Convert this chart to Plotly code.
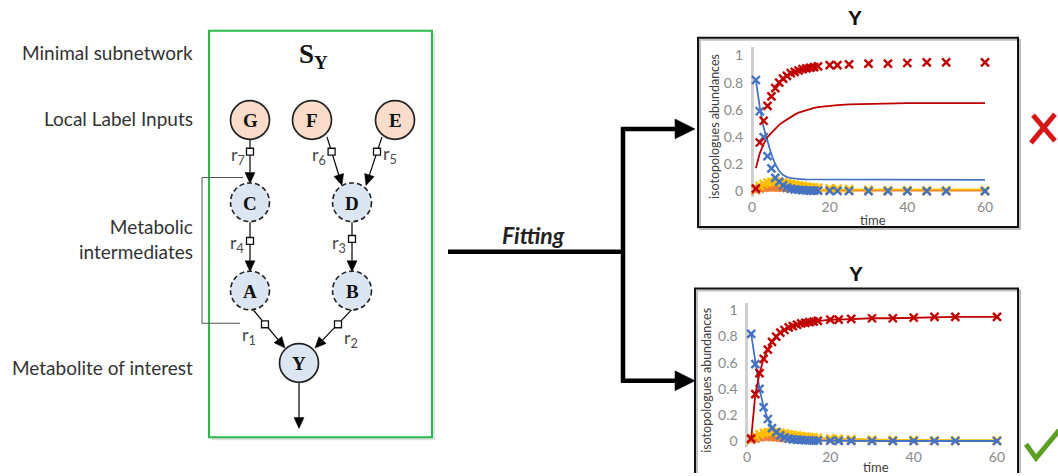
import math
import plotly.graph_objects as go

W, H = 1058, 476

# ---------------- data ----------------
time = [1, 2, 3, 4, 5, 6, 7, 8, 9, 10, 11, 12, 13, 14, 15, 16, 17, 20, 22, 25, 30, 35, 40, 45, 50, 60]

# measured isotopologue abundances of Y
meas_red = [0.02, 0.36, 0.52, 0.63, 0.70, 0.76, 0.80, 0.83, 0.85, 0.87, 0.88, 0.89, 0.90, 0.905,
            0.91, 0.915, 0.92, 0.93, 0.93, 0.935, 0.94, 0.94, 0.945, 0.95, 0.95, 0.95]
meas_blue = [0.82, 0.59, 0.40, 0.26, 0.17, 0.10, 0.07, 0.045, 0.03, 0.02, 0.015, 0.012, 0.01, 0.008,
             0.006, 0.005, 0.005, 0.004, 0.003, 0.003, 0.002, 0.002, 0.002, 0.002, 0.002, 0.002]
meas_yellow = [0.02, 0.04, 0.055, 0.065, 0.07, 0.072, 0.07, 0.066, 0.06, 0.055, 0.05, 0.045, 0.04, 0.036,
               0.032, 0.03, 0.027, 0.022, 0.02, 0.016, 0.012, 0.01, 0.01, 0.008, 0.008, 0.008]
meas_orange = [0.01, 0.02, 0.03, 0.035, 0.035, 0.033, 0.03, 0.027, 0.024, 0.021, 0.019, 0.017, 0.015, 0.013,
               0.012, 0.011, 0.01, 0.008, 0.007, 0.006, 0.005, 0.004, 0.004, 0.003, 0.003, 0.003]

# poor fit (top chart)
bad_red = [0.17, 0.28, 0.35, 0.40, 0.43, 0.46, 0.49, 0.51, 0.53, 0.55, 0.565, 0.58, 0.59, 0.60,
           0.61, 0.615, 0.62, 0.63, 0.635, 0.64, 0.645, 0.648, 0.65, 0.65, 0.65, 0.65]
bad_blue = [0.82, 0.62, 0.47, 0.36, 0.27, 0.20, 0.15, 0.12, 0.105, 0.097, 0.093, 0.09, 0.089, 0.088,
            0.088, 0.087, 0.087, 0.086, 0.086, 0.085, 0.085, 0.085, 0.085, 0.085, 0.085, 0.085]
bad_yellow = [0.012, 0.014, 0.015, 0.015, 0.015, 0.015, 0.015, 0.015, 0.015, 0.015, 0.015, 0.015, 0.015, 0.015,
              0.015, 0.015, 0.015, 0.015, 0.015, 0.015, 0.015, 0.015, 0.015, 0.015, 0.015, 0.015]
bad_orange = [0.004, 0.005, 0.005, 0.005, 0.005, 0.005, 0.005, 0.005, 0.005, 0.005, 0.005, 0.005, 0.005, 0.005,
              0.005, 0.005, 0.005, 0.005, 0.005, 0.005, 0.005, 0.005, 0.005, 0.005, 0.005, 0.005]

# good fit (bottom chart)
good_red = meas_red
good_blue = meas_blue
good_yellow = meas_yellow
good_orange = meas_orange

y_ticks = [0, 0.2, 0.4, 0.6, 0.8, 1]
y_ticktext = ["0", "0.2", "0.4", "0.6", "0.8", "1"]
x_ticks = [0, 20, 40, 60]

row_labels = ["Minimal subnetwork", "Local Label Inputs", "Metabolic<br>intermediates", "Metabolite of interest"]
node_names = ["G", "F", "E", "C", "D", "A", "B", "Y"]
node_kinds = ["input", "input", "input", "inter", "inter", "inter", "inter", "target"]
reaction_names = ["r7", "r6", "r5", "r4", "r3", "r1", "r2"]

# ---------------- layout helpers (pixel coordinates on a hidden axis) ----------------
RED, BLUE, GOLD, ORANGE = "#C00000", "#4472C4", "#FFC000", "#ED7D31"
shapes, ann = [], []


def line(x0, y0, x1, y1, color="black", width=1.2):
    shapes.append(dict(type="line", xref="x", yref="y", x0=x0, y0=y0, x1=x1, y1=y1,
                       line=dict(color=color, width=width)))


def head(fx, fy, tx, ty, L, Wd, color="black"):
    dx, dy = tx - fx, ty - fy
    n = math.hypot(dx, dy)
    ux, uy = dx / n, dy / n
    bx, by = tx - ux * L, ty - uy * L
    px, py = -uy, ux
    path = (f"M{tx},{ty} L{bx + px * Wd / 2},{by + py * Wd / 2} "
            f"L{bx - px * Wd / 2},{by - py * Wd / 2} Z")
    shapes.append(dict(type="path", xref="x", yref="y", path=path, fillcolor=color,
                       line=dict(color=color, width=0.5)))
    return bx, by


def arrow(fx, fy, tx, ty, width=1.2, L=10, Wd=9, color="black"):
    bx, by = head(fx, fy, tx, ty, L, Wd, color)
    line(fx, fy, bx, by, color, width)


def text(x, y, s, size=16, color="#333333", family="Lato", xanchor="center", yanchor="middle",
         textangle=0, align="center"):
    ann.append(dict(x=x, y=y, xref="x", yref="y", text=s, showarrow=False, xanchor=xanchor,
                    yanchor=yanchor, textangle=textangle, align=align,
                    font=dict(size=size, color=color, family=family)))


# ---------------- left labels ----------------
label_y = [52, 118, 240, 370]
for s, y in zip(row_labels, label_y):
    text(195, y, s, size=19, color="#333333", xanchor="right", align="right")

# bracket for intermediates
line(243, 178, 202, 178, "#555555", 1)
line(202, 178, 202, 325, "#555555", 1)
line(202, 325, 240, 325, "#555555", 1)

# green box
shapes.append(dict(type="rect", xref="x", yref="y", x0=212, y0=33, x1=435, y1=443,
                   fillcolor="rgba(0,0,0,0.12)", line=dict(width=0), layer="below"))
shapes.append(dict(type="rect", xref="x", yref="y", x0=209, y0=30, x1=432, y1=440,
                   fillcolor="white", line=dict(color="#2DB84D", width=2), layer="below"))
text(313, 55, "<b>S<sub>Y</sub></b>", size=27, color="#111111", family="Liberation Serif")

# nodes
node_pos = {"G": (250, 120), "F": (312, 120), "E": (395, 120), "C": (250, 203), "D": (352, 203),
            "A": (250, 292), "B": (352, 292), "Y": (299, 365)}
R = 19.5
fill_of = {"input": "#FBDCCB", "inter": "#DCE6F2", "target": "#DCE6F2"}

# edges
edges = [((250, 140), (250, 184)), ((327, 137), (342, 186)), ((382, 137), (366, 186)),
         ((250, 223), (250, 273)), ((352, 223), (352, 273)),
         ((252, 310), (285, 350)), ((352, 311), (315, 350)), ((299, 385), (299, 431))]
for (f, t) in edges:
    arrow(f[0], f[1], t[0], t[1], width=1.2, L=11, Wd=10)

for name, kind in zip(node_names, node_kinds):
    cx, cy = node_pos[name]
    shapes.append(dict(type="circle", xref="x", yref="y", x0=cx - R, y0=cy - R, x1=cx + R, y1=cy + R,
                       fillcolor=fill_of[kind],
                       line=dict(color="#222222", width=1.7 if kind != "inter" else 1.6,
                                 dash="solid" if kind != "inter" else "5px,3px")))
    text(cx, cy + 1, f"<b>{name}</b>", size=19, color="#111111", family="Liberation Serif")

# reaction squares and labels
rx_pos = {"r7": (250, 152), "r6": (331.6, 152), "r5": (377, 152), "r4": (250, 242),
          "r3": (352, 240), "r1": (265, 326), "r2": (338, 326)}
rl_pos = {"r7": (247, 156, "right"), "r6": (328, 156, "right"), "r5": (381, 155, "left"),
          "r4": (246, 245, "right"), "r3": (348, 245, "right"), "r1": (258, 337, "right"),
          "r2": (342, 340, "left")}
for r in reaction_names:
    x, y = rx_pos[r]
    shapes.append(dict(type="rect", xref="x", yref="y", x0=x - 3.5, y0=y - 3.5, x1=x + 3.5, y1=y + 3.5,
                       fillcolor="white", line=dict(color="#111111", width=1.3)))
    lx, ly, xa = rl_pos[r]
    text(lx, ly, f"r<sub>{r[1:]}</sub>", size=18, color="#4a4a4a", xanchor=xa)

# Fitting arrows
line(448, 253, 625, 253, "black", 4.5)
line(623, 127, 623, 385, "black", 4.5)
for yy in (129, 383):
    arrow(621, yy, 695, yy, width=4.5, L=20, Wd=20)
text(533, 236, "<b><i>Fitting</i></b>", size=23, color="#222222")

# chart boxes (with soft shadow) & titles
for (x0, y0, x1, y1) in [(698, 37, 1018, 228), (695, 290, 1018, 482)]:
    shapes.append(dict(type="rect", xref="x", yref="y", x0=x0 + 2, y0=y0 + 2, x1=x1 + 2, y1=y1 + 2,
                       line=dict(color="rgba(0,0,0,0.25)", width=2)))
    shapes.append(dict(type="rect", xref="x", yref="y", x0=x0, y0=y0, x1=x1, y1=y1,
                       line=dict(color="#111111", width=2)))
text(855, 17, "<b>Y</b>", size=21, color="#111111", family="Liberation Sans")
text(856, 275, "<b>Y</b>", size=21, color="#111111", family="Liberation Sans")
text(873, 221, "time", size=13, color="#404040")
text(876, 470, "time", size=13, color="#404040")
text(715, 127, "isotopologues abundances", size=12.5, color="#404040", textangle=-90)
text(707, 383, "isotopologues abundances", size=12.5, color="#404040", textangle=-90)

# red cross & green check
line(1033, 115, 1055, 141, "#D41717", 5)
line(1055, 114, 1031, 143, "#D41717", 5)
shapes.append(dict(type="path", xref="x", yref="y", path="M1026,447 L1036,461 L1059,433",
                   line=dict(color="#5C9E22", width=5)))

# ---------------- figure ----------------
fig = go.Figure()


def add_series(xax, yax, ys, color, mode, size=8, lw=1.8):
    fig.add_trace(go.Scatter(x=time, y=ys, mode=mode, xaxis=xax, yaxis=yax, showlegend=False,
                             line=dict(color=color, width=lw),
                             marker=dict(symbol="x-thin", size=size, line=dict(color=color, width=2.4)),
                             hoverinfo="skip"))


# top chart: poor fit (lines) vs measured (markers)
for ys, c in [(bad_orange, ORANGE), (bad_yellow, GOLD), (bad_blue, BLUE), (bad_red, RED)]:
    add_series("x2", "y2", ys, c, "lines")
for ys, c in [(meas_orange, ORANGE), (meas_yellow, GOLD), (meas_blue, BLUE), (meas_red, RED)]:
    add_series("x2", "y2", ys, c, "markers")

# bottom chart: good fit
for ys, c in [(good_orange, ORANGE), (good_yellow, GOLD), (good_blue, BLUE), (good_red, RED)]:
    add_series("x3", "y3", ys, c, "lines+markers")

# anchor a dummy trace on the diagram axis
fig.add_trace(go.Scatter(x=[0], y=[0], mode="markers", marker=dict(opacity=0), showlegend=False,
                         hoverinfo="skip", xaxis="x", yaxis="y"))


def dom_x(p0, p1):
    return [p0 / W, p1 / W]


def dom_y(p_top, p_bot):
    return [1 - p_bot / H, 1 - p_top / H]


# top chart geometry: x 0->752px, 60->985px ; y 0->192px, 1->55px
sx2, sy2 = (985 - 752) / 60, (192 - 55)
xr2 = [-2, 64.5]
yr2 = [-0.04, 1.06]
# bottom chart: x 0->747px, 60->997px ; y 0->444px, 1->312px
sx3, sy3 = (997 - 747) / 60, (444 - 312)
xr3 = [-2, 63]
yr3 = [-0.04, 1.06]

tickfont = dict(size=14, color="#8A8A8A", family="Lato")
common_x = dict(showgrid=False, zeroline=True, zerolinecolor="#D0D0D0", zerolinewidth=2.5,
                showline=False, ticks="", tickvals=x_ticks, tickfont=tickfont, fixedrange=True)
common_y = dict(showgrid=False, zeroline=False, showline=False, ticks="", tickvals=y_ticks,
                ticktext=y_ticktext, tickfont=tickfont, fixedrange=True)

fig.update_layout(
    width=W, height=H, margin=dict(l=0, r=0, t=0, b=0),
    paper_bgcolor="white", plot_bgcolor="rgba(0,0,0,0)",
    xaxis=dict(domain=[0, 1], range=[0, W], visible=False, fixedrange=True),
    yaxis=dict(domain=[0, 1], range=[H, 0], visible=False, fixedrange=True),
    xaxis2=dict(domain=dom_x(752 + xr2[0] * sx2, 752 + xr2[1] * sx2), range=xr2, anchor="y2", **common_x),
    yaxis2=dict(domain=dom_y(192 - yr2[1] * sy2, 192 - yr2[0] * sy2), range=yr2, anchor="x2", **common_y),
    xaxis3=dict(domain=dom_x(747 + xr3[0] * sx3, 747 + xr3[1] * sx3), range=xr3, anchor="y3", **common_x),
    yaxis3=dict(domain=dom_y(444 - yr3[1] * sy3, 444 - yr3[0] * sy3), range=yr3, anchor="x3", **common_y),
    shapes=shapes, annotations=ann, hovermode=False,
)

fig.write_html("out.html", config={"displayModeBar": False},
               post_script="document.body.style.margin='0';document.body.style.overflow='hidden';")
